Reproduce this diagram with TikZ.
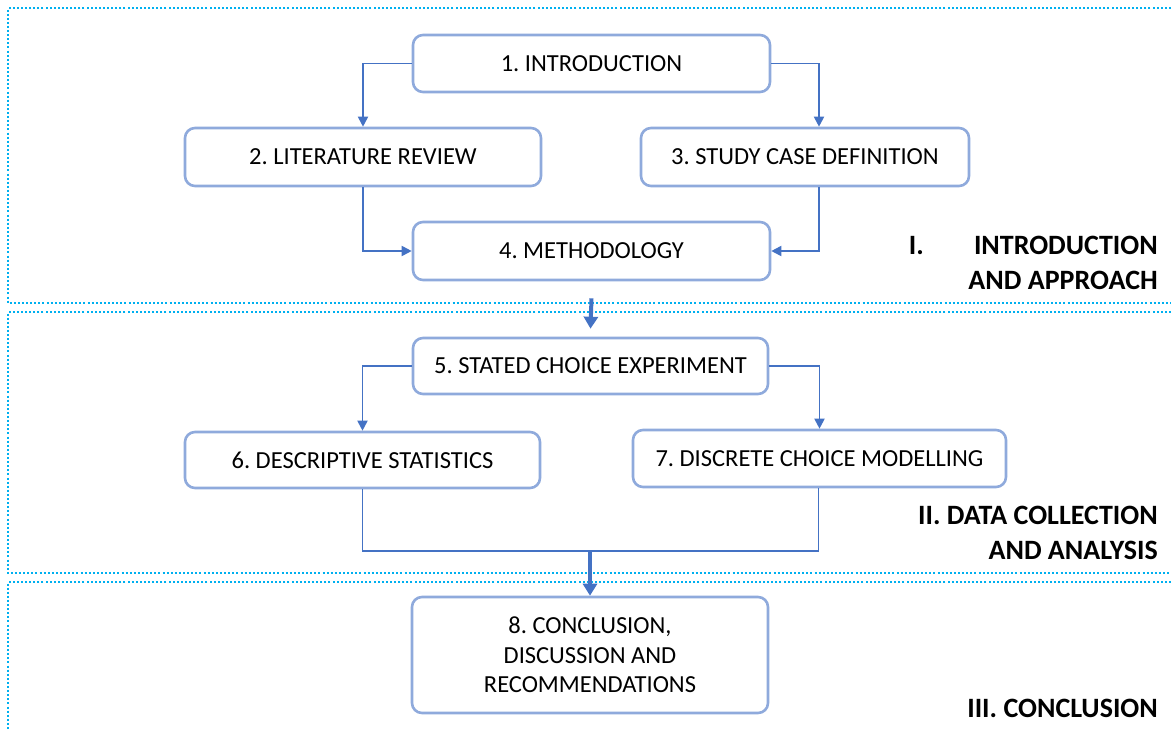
\documentclass[tikz,border=0pt]{standalone}
\usepackage{fontspec}
\setmainfont{Carlito}
\usetikzlibrary{arrows.meta}
\frenchspacing
\definecolor{boxline}{RGB}{143,170,220}
\definecolor{flow}{RGB}{68,114,196}
\definecolor{zone}{RGB}{0,176,240}
\tikzset{
  stepbox/.style={draw=boxline, line width=2.6pt, rounded corners=10pt, fill=white,
    font=\fontsize{24.5}{29.5}\selectfont, align=center, inner sep=0pt},
  conn/.style={draw=flow, line width=1.8pt, -{Triangle[length=10pt,width=10pt]}},
  plainconn/.style={draw=flow, line width=1.8pt},
  bigconn/.style={draw=flow, line width=4pt, -{Triangle[length=12pt,width=14pt]}},
  zoneline/.style={draw=zone, line width=2pt, dash pattern=on 2pt off 2.1pt},
  zonelabel/.style={font=\fontsize{28}{35}\selectfont\bfseries, align=right,
    anchor=south east, inner sep=0pt}
}
\begin{document}
\begin{tikzpicture}[x=1pt,y=-1pt]
\useasboundingbox (0,0) rectangle (1171,729);

% dotted zone frames (open to the right)
\draw[zoneline] (1175,8) -- (8,8) -- (8,303) -- (1175,303);
\draw[zoneline] (1175,312) -- (8,312) -- (8,573) -- (1175,573);
\draw[zoneline] (1175,582) -- (8,582) -- (8,735);

% steps
\node[stepbox, minimum width=357pt, minimum height=57pt] (n1) at (591.5,63.5) {1. INTRODUCTION};
\node[stepbox, minimum width=356pt, minimum height=58pt] (n2) at (363,157) {2. LITERATURE REVIEW};
\node[stepbox, minimum width=328pt, minimum height=58pt] (n3) at (805,157) {3. STUDY CASE DEFINITION};
\node[stepbox, minimum width=357pt, minimum height=58pt] (n4) at (591.5,251) {4. METHODOLOGY};
\node[stepbox, minimum width=355pt, minimum height=56pt] (n5) at (590.5,366) {5. STATED CHOICE EXPERIMENT};
\node[stepbox, minimum width=355pt, minimum height=56pt] (n6) at (362.5,460) {6. DESCRIPTIVE STATISTICS};
\node[stepbox, minimum width=373pt, minimum height=57pt] (n7) at (819.5,458.5) {7. DISCRETE CHOICE MODELLING};
\node[stepbox, minimum width=356pt, minimum height=116pt] (n8) at (590,655) {8. CONCLUSION,\\DISCUSSION AND\\RECOMMENDATIONS};

% zone titles
\node[zonelabel] (z1) at (1158,289.5)
  {\hbox to 249pt{I.\hfill INTRODUCTION}\\AND APPROACH};
\node[zonelabel] (z2) at (1158,559.5) {II. DATA COLLECTION\\AND ANALYSIS};
\node[zonelabel] (z3) at (1158,717.5) {III. CONCLUSION};

% connectors
\draw[conn] (n1.west) -| (n2.north);
\draw[conn] (n1.east) -| ([xshift=14pt]n3.north);
\draw[conn] (n2.south) |- (n4.west);
\draw[conn] ([xshift=14pt]n3.south) |- (n4.east);
\draw[bigconn] ([yshift=-17pt]n4.south) -- ([yshift=8pt]n5.north);
\draw[conn] (n5.west) -| (n6.north);
\draw[conn] (n5.east) -| (n7.north);
\coordinate (join) at (590,551);
\draw[plainconn] (n6.south) |- (join) -| ([xshift=-1pt]n7.south);
\draw[bigconn] (join) -- (n8.north);
\end{tikzpicture}
\end{document}
